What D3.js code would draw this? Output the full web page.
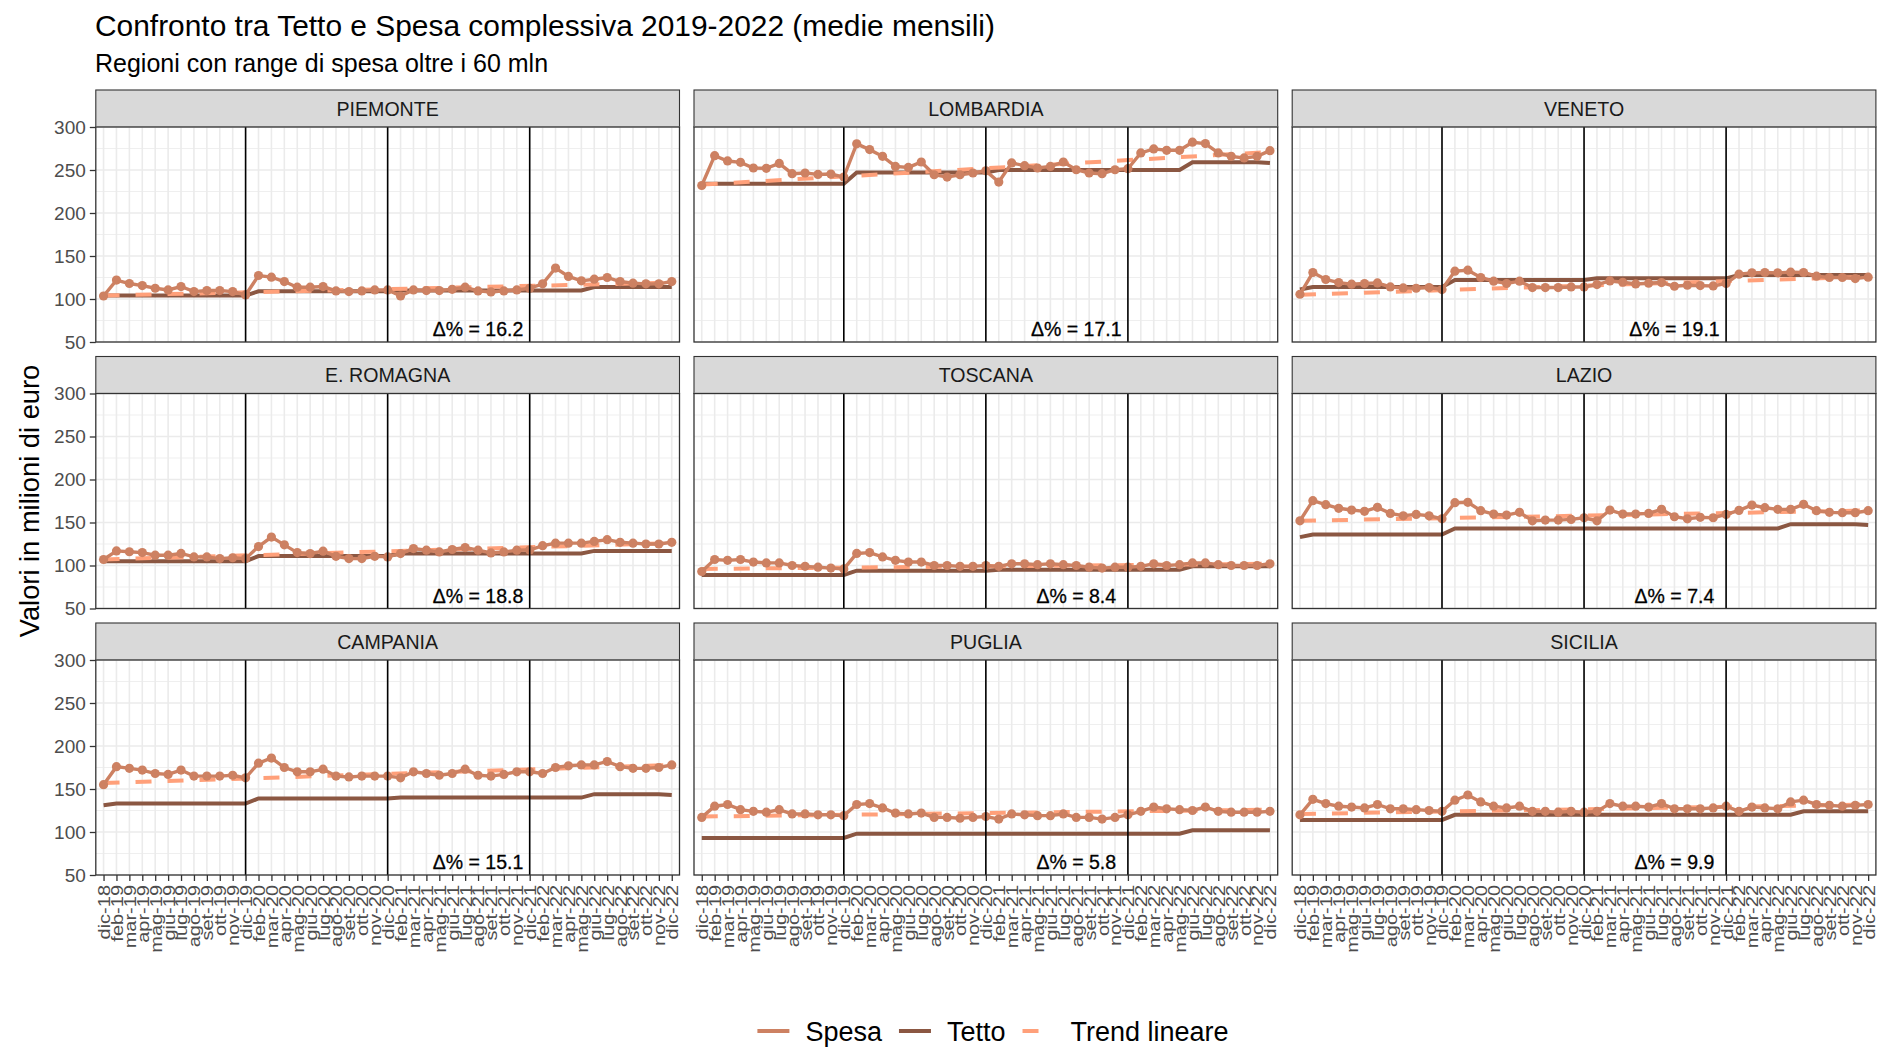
<!DOCTYPE html>
<html>
<head>
<meta charset="utf-8">
<script src="https://cdn.jsdelivr.net/npm/d3@7"></script>
<style>
  body { margin: 0; background: #fff; }
  text { font-family: "Liberation Sans", Arial, sans-serif; }
</style>
</head>
<body>
<svg id="chart" width="1877" height="1048"></svg>
<script>
const months = ["dic-18", "feb-19", "mar-19", "apr-19", "mag-19", "giu-19", "lug-19", "ago-19", "set-19", "ott-19", "nov-19",
    "dic-19", "feb-20", "mar-20", "apr-20", "mag-20", "giu-20", "lug-20", "ago-20", "set-20", "ott-20", "nov-20",
    "dic-20", "feb-21", "mar-21", "apr-21", "mag-21", "giu-21", "lug-21", "ago-21", "set-21", "ott-21", "nov-21",
    "dic-21", "feb-22", "mar-22", "apr-22", "mag-22", "giu-22", "lug-22", "ago-22", "set-22", "ott-22", "nov-22", "dic-22"];

const regions = ["PIEMONTE", "LOMBARDIA", "VENETO", "E. ROMAGNA", "TOSCANA", "LAZIO", "CAMPANIA", "PUGLIA", "SICILIA"];
const deltas = ["16.2", "17.1", "19.1", "18.8", "8.4", "7.4", "15.1", "5.8", "9.9"];

const spesaPiemonte = [103.5, 122, 118, 115.6, 112.5, 110.5, 114.5, 108.6, 109.8, 109.8, 108.6, 104.7, 127.3, 125.4, 120.3, 113.7, 113.7, 114.5, 109.4, 108.6, 109.4, 110.5, 110.5, 103.5, 110.5, 109.8, 109.8, 111.3, 113.7, 109.4, 108.2, 109.4, 110.5, 112.5, 117.6, 136, 126.2, 121.1, 123, 125, 120.3, 118.4, 117.6, 117.6, 120.3];
const spesaLombardia = [232, 266.7, 260.5, 258.9, 252.3, 251.9, 257.7, 245.7, 246.5, 244.9, 245.3, 241.8, 280.4, 273.7, 265.9, 254.2, 253, 259.3, 244.5, 241.8, 244.5, 246.5, 249, 236, 258.2, 255, 252.3, 254.2, 259.3, 250.3, 246.5, 245.7, 250.3, 251.5, 269.8, 274.5, 272.9, 272.9, 282.3, 280.7, 269.8, 265.9, 264, 265.9, 272.5];
const spesaVeneto = [105.5, 130.8, 122.7, 119.1, 117.2, 118, 118.7, 114, 112.9, 112.5, 113.3, 111, 132.4, 133.5, 125, 120.7, 118, 120.7, 113.3, 113.3, 113.3, 114, 114, 116.8, 121, 119.5, 117.5, 118.3, 119.1, 114.8, 116, 115.6, 115.2, 118, 128.9, 130.4, 130.8, 130.4, 131.2, 130.8, 126.5, 125, 125, 123.8, 125.4];
const spesaEmilia = [107, 117, 116, 115, 112, 112, 114, 110, 110, 108, 109, 108, 122, 133, 124, 115, 113.9, 116.6, 110.7, 108, 108, 110.7, 110, 113.9, 119.7, 117.8, 115.8, 118.6, 120.9, 117.8, 114.6, 115.8, 117.8, 118, 123, 126, 126, 126, 128, 130, 127, 126, 125, 125, 127];
const spesaToscana = [93, 107, 106, 107, 104, 103, 103, 100, 99, 98, 97, 96, 114, 115, 110, 106, 104, 104, 100, 100, 99, 99, 100, 99, 102, 102, 101, 102, 101, 100, 98, 97, 98, 98, 99, 102, 100, 101, 103, 103, 101, 100, 100, 100, 102];
const spesaLazio = [152, 175.4, 170.7, 166.5, 164.5, 163, 167.6, 160.6, 157.8, 159.4, 157.8, 154.3, 173, 173.5, 163.7, 159.8, 158.6, 161.8, 152, 152.8, 152.8, 153.6, 155.5, 152, 164.5, 159.8, 159.8, 160.6, 165.3, 156.7, 154.3, 156, 155.5, 159.4, 164.1, 170.3, 167.2, 165.3, 165.3, 171.1, 163.7, 161.8, 161.4, 161.4, 163.7];
const spesaCampania = [155, 176, 174, 172, 168, 167, 172, 165, 165, 165, 166, 163, 180, 186, 175, 170, 170, 173, 165, 164, 165, 165, 165, 163, 170, 168, 166, 168, 173, 166, 165, 167, 170, 170, 168, 175, 177, 178, 178, 182, 176, 174, 174, 175, 178];
const spesaPuglia = [117, 130, 132, 126, 124, 123, 126, 121, 121, 120, 120, 119, 132, 133, 128, 122, 121, 122, 117, 117, 116, 117, 118, 115, 121, 120, 119, 119, 121, 117, 117, 115, 117, 120, 124, 129, 127, 126, 125, 129, 124, 123, 123, 123, 124];
const spesaSicilia = [120, 138, 133, 130, 129, 128, 132, 127, 127, 126, 125, 124, 137, 143, 135, 130, 128, 130, 124, 124, 123, 124, 123, 124, 133, 130, 130, 129, 133, 127, 127, 127, 128, 130, 124, 129, 128, 127, 135, 137, 132, 131, 130, 131, 132];

const tettoPiemonte = [104, 104, 104, 104, 104, 104, 104, 104, 104, 104, 104, 104, 109, 109, 109, 109, 109, 109, 109, 109, 109, 109, 109, 110, 110, 110, 110, 110, 110, 110, 110, 110, 110, 110, 110, 110, 110, 110, 114, 114, 114, 114, 114, 114, 114];
const tettoLombardia = [234, 234, 234, 234, 234, 234, 234, 234, 234, 234, 234, 234, 247, 247, 247, 247, 247, 247, 247, 247, 247, 247, 247, 250, 250, 250, 250, 250, 250, 250, 250, 250, 250, 250, 250, 250, 250, 250, 259, 259, 259, 259, 259, 259, 258];
const tettoVeneto = [111, 114, 114, 114, 114, 114, 114, 114, 114, 114, 114, 114, 122, 122, 122, 122, 122, 122, 122, 122, 122, 122, 122, 124, 124, 124, 124, 124, 124, 124, 124, 124, 124, 124, 128, 128, 128, 128, 128, 128, 128, 128, 128, 128, 128];
const tettoEmilia = [105, 105, 105, 105, 105, 105, 105, 105, 105, 105, 105, 105, 111, 111, 111, 111, 111, 111, 111, 111, 111, 111, 111, 114, 114, 114, 114, 114, 114, 114, 114, 114, 114, 114, 114, 114, 114, 114, 117, 117, 117, 117, 117, 117, 117];
const tettoToscana = [89, 89, 89, 89, 89, 89, 89, 89, 89, 89, 89, 89, 94, 94, 94, 94, 94, 94, 94, 94, 94, 94, 94, 95, 95, 95, 95, 95, 95, 95, 95, 95, 95, 95, 95, 95, 95, 95, 99, 99, 99, 99, 99, 99, 99];
const tettoLazio = [133, 136, 136, 136, 136, 136, 136, 136, 136, 136, 136, 136, 143, 143, 143, 143, 143, 143, 143, 143, 143, 143, 143, 143, 143, 143, 143, 143, 143, 143, 143, 143, 143, 143, 143, 143, 143, 143, 148, 148, 148, 148, 148, 148, 147];
const tettoCampania = [131, 133, 133, 133, 133, 133, 133, 133, 133, 133, 133, 133, 139, 139, 139, 139, 139, 139, 139, 139, 139, 139, 139, 140, 140, 140, 140, 140, 140, 140, 140, 140, 140, 140, 140, 140, 140, 140, 144, 144, 144, 144, 144, 144, 143];
const tettoPuglia = [93, 93, 93, 93, 93, 93, 93, 93, 93, 93, 93, 93, 98, 98, 98, 98, 98, 98, 98, 98, 98, 98, 98, 98, 98, 98, 98, 98, 98, 98, 98, 98, 98, 98, 98, 98, 98, 98, 102, 102, 102, 102, 102, 102, 102];
const tettoSicilia = [114, 114, 114, 114, 114, 114, 114, 114, 114, 114, 114, 114, 120, 120, 120, 120, 120, 120, 120, 120, 120, 120, 120, 120, 120, 120, 120, 120, 120, 120, 120, 120, 120, 120, 120, 120, 120, 120, 120, 124, 124, 124, 124, 124, 124];

// trend lineare: valore al primo e all'ultimo mese
const trendStart = [104, 233, 105, 107, 96, 152, 157, 118, 121];
const trendEnd = [119, 271, 126, 126, 102, 164, 178, 126, 132];

const spesa = [spesaPiemonte, spesaLombardia, spesaVeneto, spesaEmilia, spesaToscana, spesaLazio, spesaCampania, spesaPuglia, spesaSicilia];
const tetto = [tettoPiemonte, tettoLombardia, tettoVeneto, tettoEmilia, tettoToscana, tettoLazio, tettoCampania, tettoPuglia, tettoSicilia];

const yTicks = [50, 100, 150, 200, 250, 300];
const yMinor = [75, 125, 175, 225, 275];
const vlineMonths = ["dic-19", "dic-20", "dic-21"];
const labelMonth = "ago-21";
const labelValue = 65;

const colSpesa = "#CD8162", colTetto = "#8B5742", colTrend = "#FFA07A";

let left0 = 95.8, panelW = 583.7, colGap = 14.5;
let top0 = 90, stripH = 37, panelH = 215, rowGap = 14.5;

let svg = d3.select("#chart");

let x = d3.scalePoint().domain(months).range([0, panelW]).padding(0.6);
let y = d3.scaleLinear().domain([50, 300]).range([panelH, 0]);

svg.append("text")
    .attr("x", 95).attr("y", 36)
    .style("font-size", "29.9px").attr("fill", "#000")
    .text("Confronto tra Tetto e Spesa complessiva 2019-2022 (medie mensili)");

svg.append("text")
    .attr("x", 95).attr("y", 72)
    .style("font-size", "25px").attr("fill", "#000")
    .text("Regioni con range di spesa oltre i 60 mln");

svg.append("text")
    .attr("transform", "translate(39,501) rotate(-90)")
    .attr("text-anchor", "middle")
    .style("font-size", "27.3px").attr("fill", "#000")
    .text("Valori in milioni di euro");

let lineGen = d3.line().x((d, i) => x(months[i])).y(d => y(d));

regions.forEach((name, i) => {
    let col = i % 3, row = Math.floor(i / 3);
    let g = svg.append("g")
        .attr("transform", `translate(${left0 + col * (panelW + colGap)},${top0 + row * (stripH + panelH + rowGap)})`);

    // strip
    g.append("rect")
        .attr("width", panelW).attr("height", stripH)
        .attr("fill", "#D9D9D9").attr("stroke", "#333").attr("stroke-width", 1.1);
    g.append("text")
        .attr("x", panelW / 2).attr("y", stripH / 2).attr("dy", "0.36em")
        .attr("text-anchor", "middle")
        .style("font-size", "19.6px").attr("fill", "#1A1A1A")
        .text(name);

    let p = g.append("g").attr("transform", `translate(0,${stripH})`);
    p.append("rect").attr("width", panelW).attr("height", panelH).attr("fill", "#fff");

    p.selectAll(".minor").data(yMinor).enter().append("line")
        .attr("x1", 0).attr("x2", panelW)
        .attr("y1", d => y(d)).attr("y2", d => y(d))
        .attr("stroke", "#EBEBEB").attr("stroke-width", 0.8);
    p.selectAll(".major").data(yTicks).enter().append("line")
        .attr("x1", 0).attr("x2", panelW)
        .attr("y1", d => y(d)).attr("y2", d => y(d))
        .attr("stroke", "#EBEBEB").attr("stroke-width", 1.6);
    p.selectAll(".vgrid").data(months).enter().append("line")
        .attr("x1", d => x(d)).attr("x2", d => x(d))
        .attr("y1", 0).attr("y2", panelH)
        .attr("stroke", "#EBEBEB").attr("stroke-width", 1.6);

    p.append("path")
        .datum(tetto[i])
        .attr("fill", "none").attr("stroke", colTetto).attr("stroke-width", 4)
        .attr("d", lineGen);

    p.append("line")
        .attr("x1", x(months[0])).attr("x2", x(months[months.length - 1]))
        .attr("y1", y(trendStart[i])).attr("y2", y(trendEnd[i]))
        .attr("stroke", colTrend).attr("stroke-width", 4)
        .attr("stroke-dasharray", "16,16");

    p.append("path")
        .datum(spesa[i])
        .attr("fill", "none").attr("stroke", colSpesa).attr("stroke-width", 3.4)
        .attr("d", lineGen);

    p.selectAll(".pt").data(spesa[i]).enter().append("circle")
        .attr("cx", (d, k) => x(months[k])).attr("cy", d => y(d))
        .attr("r", 4.6).attr("fill", colSpesa);

    p.selectAll(".vl").data(vlineMonths).enter().append("line")
        .attr("x1", d => x(d)).attr("x2", d => x(d))
        .attr("y1", 0).attr("y2", panelH)
        .attr("stroke", "#000").attr("stroke-width", 1.6);

    p.append("text")
        .attr("x", x(labelMonth)).attr("y", y(labelValue)).attr("dy", "0.36em")
        .attr("text-anchor", "middle")
        .style("font-size", "19.5px").attr("fill", "#000")
        .attr("stroke", "#000").attr("stroke-width", 0.3)
        .text("Δ% = " + deltas[i]);

    p.append("rect")
        .attr("width", panelW).attr("height", panelH)
        .attr("fill", "none").attr("stroke", "#333").attr("stroke-width", 1.3);

    if (col === 0) {
        let ya = p.append("g").call(d3.axisLeft(y).tickValues(yTicks).tickSize(6).tickPadding(4));
        ya.select(".domain").remove();
        ya.selectAll("line").attr("stroke", "#333").attr("stroke-width", 1.3);
        ya.selectAll("text").style("font-size", "19px").attr("fill", "#4D4D4D")
            .style("font-family", '"Liberation Sans", Arial, sans-serif');
    }

    if (row === 2) {
        let xa = p.append("g").attr("transform", `translate(0,${panelH})`)
            .call(d3.axisBottom(x).tickSize(6));
        xa.select(".domain").remove();
        xa.selectAll("line").attr("stroke", "#333").attr("stroke-width", 1.3);
        xa.selectAll("text")
            .attr("x", 0).attr("y", 0)
            .attr("transform", "translate(0,10) rotate(-90) scale(1,0.85)")
            .attr("dy", "0.35em")
            .style("text-anchor", "end")
            .style("font-size", "20px").attr("fill", "#4D4D4D")
            .style("font-family", '"Liberation Sans", Arial, sans-serif');
    }
});

// legend
let legendItems = [
    { label: "Spesa", color: colSpesa, dash: null },
    { label: "Tetto", color: colTetto, dash: null },
    { label: "Trend lineare", color: colTrend, dash: "16,16" }
];
let legend = svg.append("g").attr("transform", "translate(0,1031)");
let keyW = 32, keyGap = 16, itemGap = 17;
let items = legend.selectAll("g").data(legendItems).enter().append("g");
items.append("line")
    .attr("x1", 0).attr("x2", keyW).attr("y1", 0).attr("y2", 0)
    .attr("stroke", d => d.color).attr("stroke-width", 4)
    .attr("stroke-dasharray", d => d.dash);
items.append("text")
    .attr("x", keyW + keyGap).attr("dy", "0.36em")
    .style("font-size", "27px").attr("fill", "#000")
    .text(d => d.label);

let widths = [];
items.each(function () { widths.push(keyW + keyGap + d3.select(this).select("text").node().getComputedTextLength()); });
let total = d3.sum(widths) + itemGap * (widths.length - 1);
let cx = 993;
let pos = cx - total / 2;
items.attr("transform", (d, k) => {
    let t = `translate(${pos},0)`;
    pos += widths[k] + itemGap;
    return t;
});
</script>
</body>
</html>
